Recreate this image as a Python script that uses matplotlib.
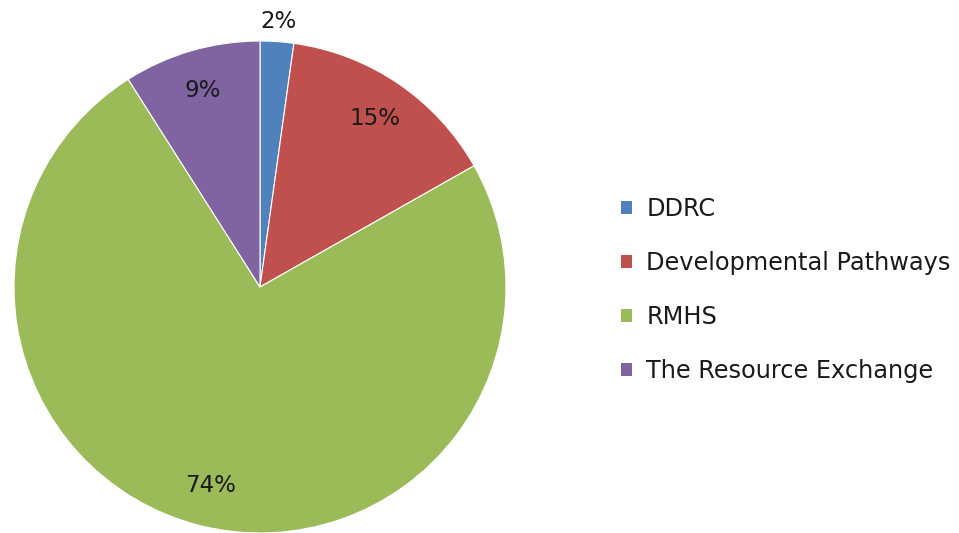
import matplotlib.pyplot as plt
import numpy as np
from matplotlib.patches import Patch

labels = ["DDRC", "Developmental Pathways", "RMHS", "The Resource Exchange"]
shares = [2.2, 14.6, 74.2, 9.0]
colors = ["#4F81BD", "#C0504D", "#9BBB59", "#8064A2"]

plt.rcParams["font.family"] = "DejaVu Sans"

fig = plt.figure(figsize=(9.59, 5.33), dpi=100)
# square axes in pixels: centre (260, 287), radius 246
ax = fig.add_axes([14 / 959, 0, 492 / 959, 492 / 533])

wedges, texts, pcts = ax.pie(shares, colors=colors, startangle=90, counterclock=False,
                             autopct="%1.0f%%", pctdistance=0.83,
                             wedgeprops=dict(edgecolor="white", linewidth=0.8),
                             textprops=dict(fontsize=16.5, color="#1a1a1a"))

# the small slice gets its label just outside the pie
w = wedges[0]
mid = np.deg2rad((w.theta1 + w.theta2) / 2)
pcts[0].set_position((1.08 * np.cos(mid), 1.08 * np.sin(mid)))

ax.set_xlim(-1, 1)
ax.set_ylim(-1, 1)
ax.set_aspect("equal")
ax.axis("off")

handles = [Patch(facecolor=c, edgecolor="none") for c in colors]
fig.legend(handles, labels, loc="center left", bbox_to_anchor=(621 / 959, 1 - 290 / 533),
           frameon=False, fontsize=17.3, handlelength=0.45, handleheight=0.45,
           handletextpad=0.6, labelspacing=1.24, borderpad=0, borderaxespad=0,
           labelcolor="#1a1a1a")

fig.savefig("out.png", dpi=100, facecolor="white")
plt.close()
